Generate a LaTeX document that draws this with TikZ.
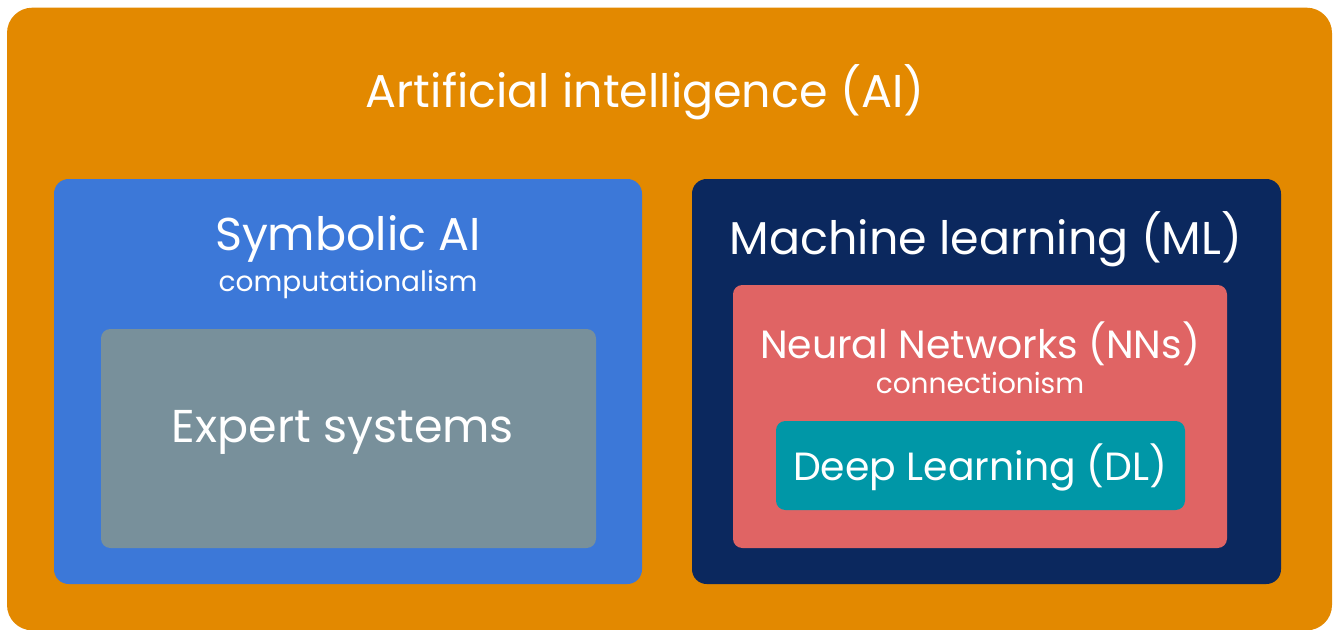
\documentclass[tikz,border=0pt]{standalone}
\usepackage{fontspec}
\setmainfont{Poppins}
\usetikzlibrary{positioning}
\definecolor{aiOrange}{RGB}{227, 137, 0}
\definecolor{symBlue}{RGB}{60, 120, 216}
\definecolor{expGray}{RGB}{120, 144, 155}
\definecolor{mlNavy}{RGB}{11, 40, 94}
\definecolor{nnRed}{RGB}{224, 100, 100}
\definecolor{dlTeal}{RGB}{0, 151, 167}
\tikzset{
    base/.style={
        text=white,
        align=center
    },
    field/.style={
        rectangle,
        rounded corners=#1,
        inner sep=0pt
    },
    field/.default=12pt,
    heading/.style={
        base,
        font=\fontsize{34.5}{40}\selectfont
    },
    smallheading/.style={
        base,
        font=\fontsize{29.5}{34}\selectfont
    },
    subheading/.style={
        base,
        font=\fontsize{21}{25}\selectfont
    }
}
\begin{document}
\begin{tikzpicture}[x=0.75pt, y=-0.75pt]
    \useasboundingbox (0,0) rectangle (1339,629);

    % Boxes
    \node[field=19pt, fill=aiOrange, minimum width=993.75pt, minimum height=467pt] (ai) at (669.5,319) {};
    \node[field=11pt, fill=symBlue, minimum width=441pt, minimum height=303.75pt] (sym) at (348,381.5) {};
    \node[field=7pt, fill=expGray, minimum width=371.25pt, minimum height=164.25pt] (exp) at (348.5,438.5) {};
    \node[field=11pt, fill=mlNavy, minimum width=441.75pt, minimum height=303.75pt] (ml) at (986.5,381.5) {};
    \node[field=7pt, fill=nnRed, minimum width=370.5pt, minimum height=197.25pt] (nn) at (980,416.5) {};
    \node[field=7pt, fill=dlTeal, minimum width=306.75pt, minimum height=66.75pt] (dl) at (980.5,465.5) {};

    % Labels
    \node[heading] (aiText) at (645,92) {Artificial intelligence (AI)};
    \node[heading] (symText) at (348,239) {Symbolic AI};
    \node[subheading] (symSub) at (348,284) {computationalism};
    \node[heading] (expText) at (343,432) {Expert systems};
    \node[heading] (mlText) at (986,239) {Machine learning (ML)};
    \node[smallheading] (nnText) at (980,344) {Neural Networks (NNs)};
    \node[subheading] (nnSub) at (980,383) {connectionism};
    \node[smallheading] (dlText) at (980,467) {Deep Learning (DL)};
\end{tikzpicture}
\end{document}
